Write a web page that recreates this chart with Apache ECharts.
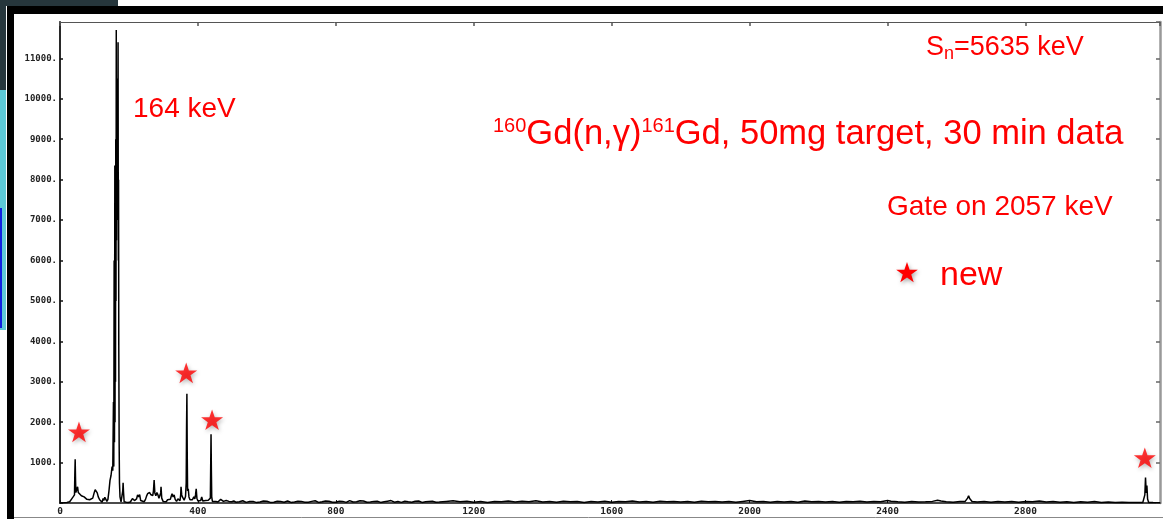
<!DOCTYPE html>
<html>
<head>
<meta charset="utf-8">
<script src="https://cdn.jsdelivr.net/npm/echarts@6/dist/echarts.min.js"></script>
<style>
  html, body { margin: 0; padding: 0; background: #fff; }
  #chart { width: 1163px; height: 519px; }
</style>
</head>
<body>
<div id="chart"></div>
<script>
// gated gamma spectrum, 160Gd(n,g)161Gd — [energy keV, counts]
const lowSpectrum = [
  [0, 0], [10, 5], [20, 15], [28, 30], [33, 90], [38, 150], [42, 200], [43, 700], [44, 1085], [45, 600],
  [46, 260], [49, 240], [51, 400], [53, 260], [57, 220], [62, 180], [66, 200], [70, 150], [74, 110], [78, 90],
  [82, 70], [86, 80], [90, 60], [95, 120], [99, 250], [102, 330], [104, 370], [106, 300], [108, 250], [111, 150],
  [115, 80], [119, 40], [122, 20], [125, 110], [127, 60], [130, 140], [133, 100], [136, 40], [139, 90], [142, 300],
  [145, 560], [148, 680], [151, 900], [153, 800], [155, 2500], [156, 900], [157, 6000], [158, 1500], [159, 8350],
  [159.6, 2000], [160.3, 8300], [161, 3000], [161.7, 9000], [162.4, 5000], [163.2, 11700], [163.8, 6500],
  [164.5, 10000], [165.1, 7000], [165.8, 9100], [166.4, 7500], [167.2, 10500], [167.8, 8000], [168.4, 11400],
  [169.2, 6000], [169.8, 8000], [170.5, 3800], [171.5, 1500], [172.5, 500], [174, 150], [177, 30], [180, 40],
  [182, 300], [183, 500], [184, 300], [186, 30], [192, 20],
  [198, 15], [204, 25], [208, 40], [210, 110], [213, 120], [216, 60], [219, 30], [222, 100], [225, 200], [228, 150],
  [231, 210], [234, 60], [238, 25], [244, 30], [248, 90], [251, 170], [254, 230], [257, 200], [260, 260], [263, 210],
  [266, 240], [269, 180], [271, 300], [273, 570], [275, 250], [278, 180], [281, 260], [284, 200], [287, 120],
  [290, 100], [292, 250], [293, 400], [295, 120], [299, 40], [304, 60], [308, 30], [312, 80], [316, 40], [320, 90],
  [323, 180], [325, 230], [328, 150], [331, 200], [334, 90], [338, 40], [342, 100], [345, 90], [348, 60], [350, 200],
  [351, 400], [353, 200], [355, 150], [357, 180], [360, 70], [364, 160], [366, 500], [367, 1900], [368, 2700],
  [369, 1200], [370, 300], [372, 350], [374, 150], [377, 80], [381, 120], [384, 80], [388, 150], [391, 100],
  [393, 200], [395, 350], [397, 120], [400, 50], [404, 40], [408, 60], [411, 150], [412, 180], [414, 50], [418, 30],
  [422, 60], [426, 40], [430, 70], [434, 30], [436, 120], [437, 900], [438, 1700], [439, 800], [440, 150], [442, 40],
  [446, 20], [452, 35], [458, 25], [462, 60], [466, 90], [470, 70], [474, 40], [478, 85], [482, 60], [486, 90],
  [490, 40], [494, 70], [498, 30], [504, 50], [510, 20]
]
const highSpectrum = [
  [520, 30], [530, 55], [540, 15], [550, 35], [560, 40], [570, 10], [580, 25], [590, 50], [600, 45], [610, 15],
  [620, 20], [630, 45], [640, 35], [650, 20], [660, 50], [670, 15], [680, 25], [690, 45], [700, 40], [710, 20],
  [720, 20], [730, 40], [740, 55], [750, 15], [760, 30], [770, 50], [780, 45], [790, 20], [800, 20], [810, 45],
  [820, 40], [830, 15], [840, 60], [850, 25], [860, 30], [870, 55], [880, 50], [890, 20], [900, 25], [910, 40],
  [920, 45], [930, 15], [940, 30], [950, 45], [960, 60], [970, 20], [980, 35], [990, 15], [1000, 45], [1010, 30],
  [1020, 20], [1030, 45], [1040, 50], [1050, 15], [1060, 30], [1070, 40], [1080, 45], [1090, 20], [1100, 25],
  [1120, 40], [1140, 55], [1160, 30], [1180, 45], [1200, 20], [1220, 35], [1240, 15], [1260, 40], [1280, 30],
  [1300, 50], [1320, 25], [1340, 45], [1360, 30], [1380, 55], [1400, 25], [1420, 40], [1440, 20], [1460, 45],
  [1480, 30], [1500, 40], [1520, 15], [1540, 35], [1560, 25], [1580, 45], [1600, 20], [1620, 40], [1640, 30],
  [1660, 50], [1680, 25], [1700, 35], [1720, 20], [1740, 45], [1760, 30], [1780, 40], [1800, 25], [1820, 35],
  [1840, 20], [1860, 45], [1880, 30], [1900, 40], [1920, 25], [1940, 35], [1960, 20], [1980, 40], [2000, 60],
  [2020, 30], [2040, 35], [2060, 20], [2080, 40], [2100, 25], [2120, 35], [2140, 20], [2160, 50], [2180, 30],
  [2200, 40], [2220, 25], [2240, 35], [2260, 20], [2280, 40], [2300, 30], [2320, 45], [2340, 25], [2360, 35],
  [2380, 30], [2400, 60], [2405, 80], [2410, 45], [2430, 30], [2450, 20], [2470, 35], [2490, 25], [2510, 30],
  [2530, 40], [2545, 70], [2550, 80], [2555, 50], [2570, 30], [2590, 20], [2610, 35], [2625, 40], [2632, 120],
  [2635, 180], [2638, 110], [2645, 35], [2660, 25], [2680, 40], [2700, 20], [2720, 35], [2740, 25], [2760, 40],
  [2780, 20], [2800, 35], [2820, 30], [2840, 50], [2860, 25], [2880, 35], [2900, 20], [2920, 30], [2940, 15],
  [2960, 30], [2980, 20], [3000, 35], [3020, 15], [3040, 25], [3060, 10], [3080, 20], [3100, 10], [3120, 15],
  [3140, 10], [3146, 200], [3148, 630], [3150, 250], [3152, 430], [3154, 100], [3157, 15], [3170, 10], [3190, 5]
]
// red stars marking new transitions
const newStars = [[55, 1760], [366, 3220], [441, 2060], [3146, 1120]]

const yTicks = [0, 1000, 2000, 3000, 4000, 5000, 6000, 7000, 8000, 9000, 10000, 11000]
const xTicks = [0, 400, 800, 1200, 1600, 2000, 2400, 2800]

const STAR = 'path://M50,0 L61.8,35.1 L98.9,35.1 L69.1,56.8 L80.3,91.9 L50,70.2 L19.7,91.9 L30.9,56.8 L1.1,35.1 L38.2,35.1 Z'
const RED = '#ff0000'
const TXT = 'Liberation Sans, Arial, sans-serif'

// star outline for the "new" key, around its own centre
const keyStar = [[0, -11], [2.6, -3.3], [10.8, -3.3], [4.2, 1.5], [6.7, 9.2], [0, 4.4], [-6.7, 9.2], [-4.2, 1.5], [-10.8, -3.3], [-2.6, -3.3]]

const chart = echarts.init(document.getElementById('chart'), null, { renderer: 'canvas' })

const tickLbl = { fontFamily: 'DejaVu Sans Mono', fontWeight: 'bold', fontSize: 9, color: '#222' }

chart.setOption({
  animation: false,
  backgroundColor: '#fff',
  grid: { left: 60, right: 3, top: 22, bottom: 16 },
  xAxis: [
    {
      type: 'value', min: 0, max: 3190, interval: 400, position: 'bottom',
      axisLine: { onZero: false, lineStyle: { color: '#111', width: 1.5 } },
      axisTick: { inside: true, length: 3, lineStyle: { color: '#111' } },
      axisLabel: {
        ...tickLbl, fontSize: 9.5, margin: 4, showMaxLabel: false,
        formatter: v => xTicks.includes(v) ? String(v) : ''
      },
      splitLine: { show: false }
    },
    {
      type: 'value', min: 0, max: 3190, interval: 400, position: 'top',
      axisLine: { show: true, onZero: false, lineStyle: { color: '#555', width: 1 } },
      axisTick: { show: true, inside: true, length: 4, lineStyle: { color: '#555', width: 1.5 } },
      axisLabel: { show: false }, splitLine: { show: false }
    }
  ],
  yAxis: [
    {
      type: 'value', min: 0, max: 11900, interval: 1000, position: 'left',
      axisLine: { show: true, onZero: false, lineStyle: { color: '#111', width: 1.8 } },
      axisTick: { show: true, inside: true, length: 3, lineStyle: { color: '#111', width: 1.5 } },
      axisLabel: {
        ...tickLbl, margin: 3, showMaxLabel: false,
        formatter: v => (v > 0 && yTicks.includes(v)) ? v + '.' : ''
      },
      splitLine: { show: false }
    },
    {
      type: 'value', min: 0, max: 11900, interval: 1000, position: 'right',
      axisLine: { show: true, onZero: false, lineStyle: { color: '#999', width: 2.5 } },
      axisTick: { show: true, inside: true, length: 4, lineStyle: { color: '#666', width: 1.5 } },
      axisLabel: { show: false }, splitLine: { show: false }
    }
  ],
  series: [
    {
      name: 'spectrum', type: 'line', xAxisIndex: 0, yAxisIndex: 0,
      data: lowSpectrum.concat(highSpectrum),
      showSymbol: false, symbol: 'none',
      lineStyle: { color: '#000', width: 1.5 }
    },
    {
      name: 'new', type: 'scatter', xAxisIndex: 0, yAxisIndex: 0,
      data: newStars, symbol: STAR, symbolSize: 22, symbolKeepAspect: true,
      itemStyle: { color: RED, shadowBlur: 4, shadowColor: 'rgba(0,0,0,0.35)', shadowOffsetX: 1, shadowOffsetY: 2 }
    }
  ],
  graphic: [
    // slide frame around the screenshot
    { type: 'rect', shape: { x: 0, y: 0, width: 118, height: 6 }, style: { fill: '#26363c' }, silent: true },
    { type: 'rect', shape: { x: 0, y: 0, width: 6, height: 90 }, style: { fill: '#26363c' }, silent: true },
    { type: 'rect', shape: { x: 0, y: 90, width: 6, height: 240 }, style: { fill: '#5cc9d8' }, silent: true },
    { type: 'rect', shape: { x: 0, y: 208, width: 2, height: 120 }, style: { fill: '#1020e0' }, silent: true },
    { type: 'rect', shape: { x: 10, y: 6, width: 1153, height: 8 }, style: { fill: '#000' }, silent: true },
    { type: 'rect', shape: { x: 7, y: 6, width: 7, height: 513 }, style: { fill: '#000' }, silent: true },
    { type: 'line', shape: { x1: 14, y1: 517.5, x2: 1163, y2: 517.5 }, style: { stroke: '#888', lineWidth: 1 }, silent: true },
    // annotations
    {
      type: 'text', x: 133, y: 109,
      style: { text: '164 keV', fill: RED, font: '28px ' + TXT, verticalAlign: 'middle' }
    },
    {
      type: 'text', x: 926, y: 48,
      style: {
        text: 'S{n|n}=5635 keV', fill: RED, font: '27px ' + TXT, verticalAlign: 'middle',
        rich: { n: { fontSize: 18, fontFamily: TXT, fill: RED, padding: [12, 0, 0, 0] } }
      }
    },
    {
      type: 'text', x: 493, y: 134,
      style: {
        text: '{s|160}Gd(n,γ){s|161}Gd, 50mg target, 30 min data', fill: RED, font: '34.5px ' + TXT,
        verticalAlign: 'middle',
        rich: { s: { fontSize: 20, fontFamily: TXT, fill: RED, padding: [0, 0, 16, 0] } }
      }
    },
    {
      type: 'text', x: 887, y: 207,
      style: { text: 'Gate on 2057 keV', fill: RED, font: '28px ' + TXT, verticalAlign: 'middle' }
    },
    {
      type: 'polygon', x: 907, y: 273,
      shape: { points: keyStar },
      style: { fill: RED, shadowBlur: 4, shadowColor: 'rgba(0,0,0,0.35)', shadowOffsetX: 1, shadowOffsetY: 2 }
    },
    {
      type: 'text', x: 940, y: 276,
      style: { text: 'new', fill: RED, font: '34px ' + TXT, verticalAlign: 'middle' }
    }
  ]
})
</script>
</body>
</html>
